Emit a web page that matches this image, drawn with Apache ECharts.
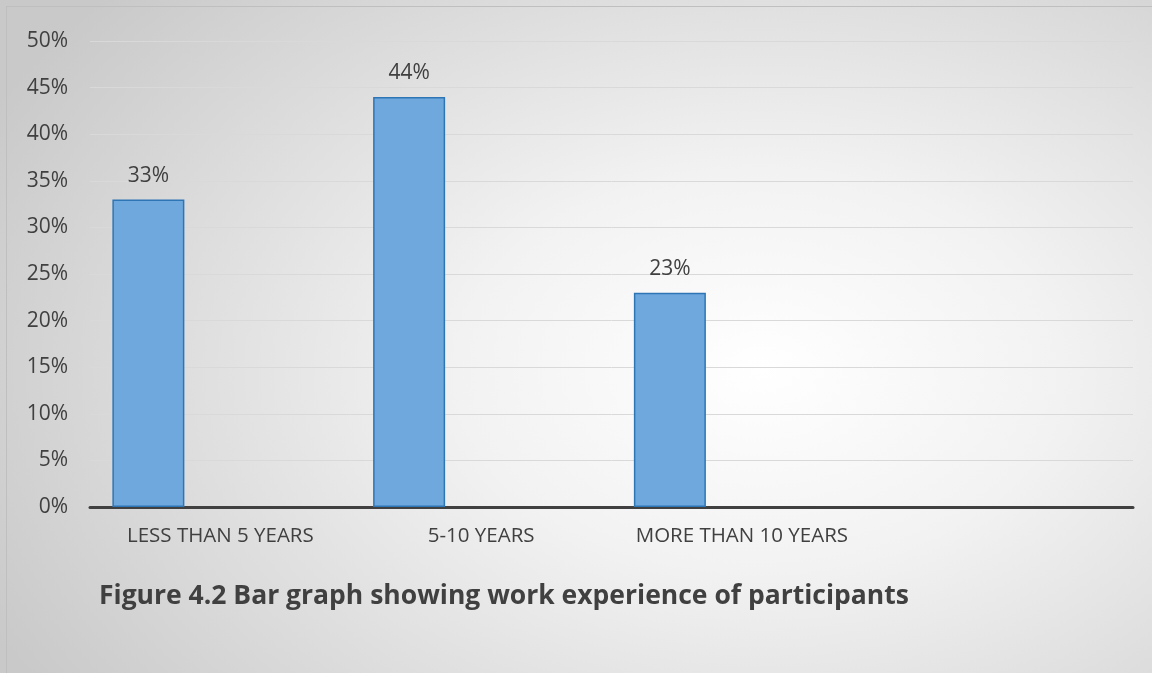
<!DOCTYPE html>
<html style="height: 100%">
<head>
<meta charset="utf-8">
<script src="https://cdn.jsdelivr.net/npm/echarts@6/dist/echarts.min.js"></script>
</head>
<body style="height: 100%; margin: 0; overflow: hidden; background: radial-gradient(ellipse 75% 85% at 66% 55%, #ffffff 0%, #f2f2f2 35%, #c9c9c9 100%)">
<div style="position: absolute; left: 6px; top: 6px; width: 1200px; height: 700px; border: 1px solid #bfbfbf"></div>
<div id="container" style="position: absolute; left: 0; top: 0; width: 1152px; height: 673px"></div>
<script type="text/javascript">
var categories = ['LESS THAN 5 YEARS', '5-10 YEARS', 'MORE THAN 10 YEARS', ''];
var values = [33, 44, 23, null];
var yTicks = [0, 50, 5]; // min, max, step (%)

var myChart = echarts.init(document.getElementById('container'));

var option = {
    backgroundColor: 'transparent',
    textStyle: { fontFamily: 'Open Sans' },
    title: {
        text: 'Figure 4.2 Bar graph showing work experience of participants',
        left: 94,
        top: 578,
        textStyle: { fontFamily: 'Open Sans', fontSize: 26.5, fontWeight: 'bold', color: '#404040' }
    },
    grid: { left: 90, right: 19, top: 41, bottom: 166 },
    xAxis: {
        type: 'category',
        data: categories,
        axisLine: { lineStyle: { color: '#404040', width: 3 } },
        axisTick: { show: false },
        axisLabel: { color: '#404040', fontSize: 20.5, margin: 19, interval: 0, hideOverlap: false }
    },
    yAxis: {
        type: 'value',
        min: yTicks[0],
        max: yTicks[1],
        interval: yTicks[2],
        axisLine: { show: false },
        axisTick: { show: false },
        axisLabel: { formatter: '{value}%', color: '#404040', fontSize: 21, margin: 22 },
        splitLine: { lineStyle: { color: '#d9d9d9', width: 1 } }
    },
    series: [{
        type: 'bar',
        data: values,
        barWidth: 72,
        barGap: '100%',
        itemStyle: { color: '#6fa8dc', borderColor: '#2e75b6', borderWidth: 1.5 },
        label: {
            show: true,
            position: 'top',
            distance: 13,
            formatter: '{c}%',
            color: '#404040',
            fontSize: 21
        }
    }, {
        type: 'bar',
        data: [],
        barWidth: 72
    }]
};

myChart.setOption(option, true);
</script>
</body>
</html>
